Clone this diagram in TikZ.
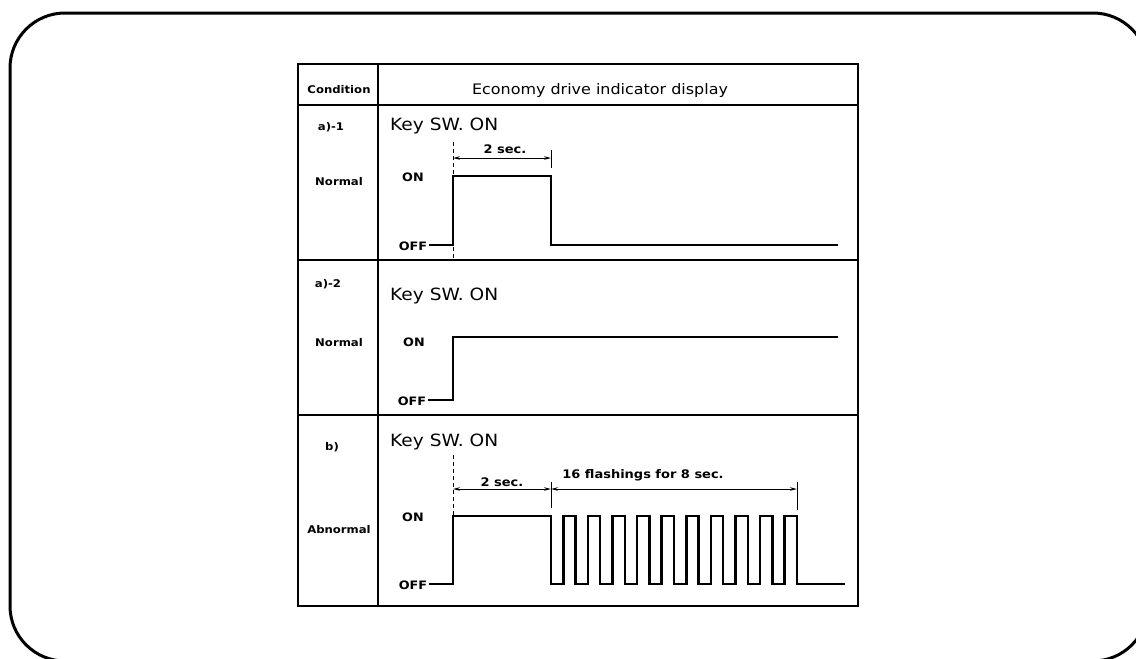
\documentclass[tikz,border=0pt]{standalone}
\usepackage{fontspec}
\newfontfamily\figfont[FakeStretch=1.1]{DejaVu Sans}
\usetikzlibrary{arrows.meta}

\begin{document}
\begin{tikzpicture}[x=1pt,y=-1pt,
  condlbl/.style={font=\figfont\bfseries\fontsize{10.6}{12}\selectfont, inner sep=0pt},
  keylbl/.style={font=\figfont\fontsize{16.9}{18}\selectfont, inner sep=0pt, anchor=west},
  levlbl/.style={font=\figfont\bfseries\fontsize{11.6}{13}\selectfont, inner sep=0pt},
  timelbl/.style={font=\figfont\bfseries\fontsize{11.8}{13}\selectfont, inner sep=0pt},
  signal/.style={line width=2.5pt, line join=miter},
  rule/.style={line width=2pt},
  dimline/.style={line width=0.9pt, {Stealth[length=7pt,width=3.5pt]}-{Stealth[length=7pt,width=3.5pt]}},
  tick/.style={line width=0.9pt},
  swline/.style={line width=0.9pt, dash pattern=on 4pt off 3pt}]

\useasboundingbox (0,0) rectangle (1136,659);
\begin{scope}
\clip (0,0) rectangle (1136,659);
\draw[line width=3pt, rounded corners=55pt] (10,13) rectangle (1148,661);
\end{scope}

% table frame and rules
\draw[line width=2.5pt] (298,64) rectangle (858,606);
\draw[rule] (378,64) -- (378,606);
\draw[rule] (298,105) -- (858,105);
\draw[rule] (298,260) -- (858,260);
\draw[rule] (298,415) -- (858,415);

% header
\node[condlbl] (cond) at (339,90) {Condition};
\node[font=\figfont\fontsize{14.5}{16}\selectfont, inner sep=0pt] (head) at (600,90) {Economy drive indicator display};

% conditions
\node[condlbl] (ca1) at (331,127) {a)-1};
\node[condlbl] (na1) at (339,182) {Normal};
\node[condlbl] (ca2) at (328,284) {a)-2};
\node[condlbl] (na2) at (339,343) {Normal};
\node[condlbl] (cb) at (332,447) {b)};
\node[condlbl] (nb) at (339,530) {Abnormal};

% row a)-1
\node[keylbl] (key1) at (390,126) {Key SW. ON};
\node[levlbl] (on1) at (413,177) {ON};
\node[levlbl] (off1) at (413,246) {OFF};
\coordinate (s1) at (453,142);
\coordinate (s1b) at (453,258);
\coordinate (d1a) at (453,158);
\coordinate (d1b) at (551,158);
\draw[swline] (s1) -- (s1b);
\draw[dimline] (d1a) -- (d1b);
\draw[tick] (551,150) -- (551,168);
\node[timelbl] (sec1) at (505,149) {2 sec.};
\draw[signal] ([xshift=2pt]off1.east |- 0,245) -- (453,245) -- (453,176) -- (551,176) -- (551,245) -- (838,245);

% row a)-2
\node[keylbl] (key2) at (390,296) {Key SW. ON};
\node[levlbl] (on2) at (414,342) {ON};
\node[levlbl] (off2) at (412,401) {OFF};
\draw[signal] ([xshift=2pt]off2.east |- 0,400) -- (453,400) -- (453,337) -- (838,337);

% row b)
\node[keylbl] (key3) at (390,442) {Key SW. ON};
\node[levlbl] (on3) at (413,517) {ON};
\node[levlbl] (off3) at (413,585) {OFF};
\coordinate (s3) at (453,455);
\coordinate (s3b) at (453,516);
\coordinate (d3a) at (453,489);
\coordinate (d3b) at (551,489);
\coordinate (d3c) at (797,489);
\draw[swline] (s3) -- (s3b);
\draw[dimline] (d3a) -- (d3b);
\draw[dimline] (d3b) -- (d3c);
\draw[tick] (551,482) -- (551,508);
\draw[tick] (797,482) -- (797,510);
\node[timelbl] (sec3) at (502,482) {2 sec.};
\node[timelbl] (flash) at (643,475) {16 flashings for 8 sec.};
\draw[signal] ([xshift=2pt]off3.east |- 0,584) -- (453,584) -- (453,516) -- (551,516) -- (551,584)
  \foreach \i in {0,...,9} { -- ++(12.3,0) -- ++(0,-68) -- ++(12.3,0) -- ++(0,68) }
  -- (845,584);
\end{tikzpicture}
\end{document}
